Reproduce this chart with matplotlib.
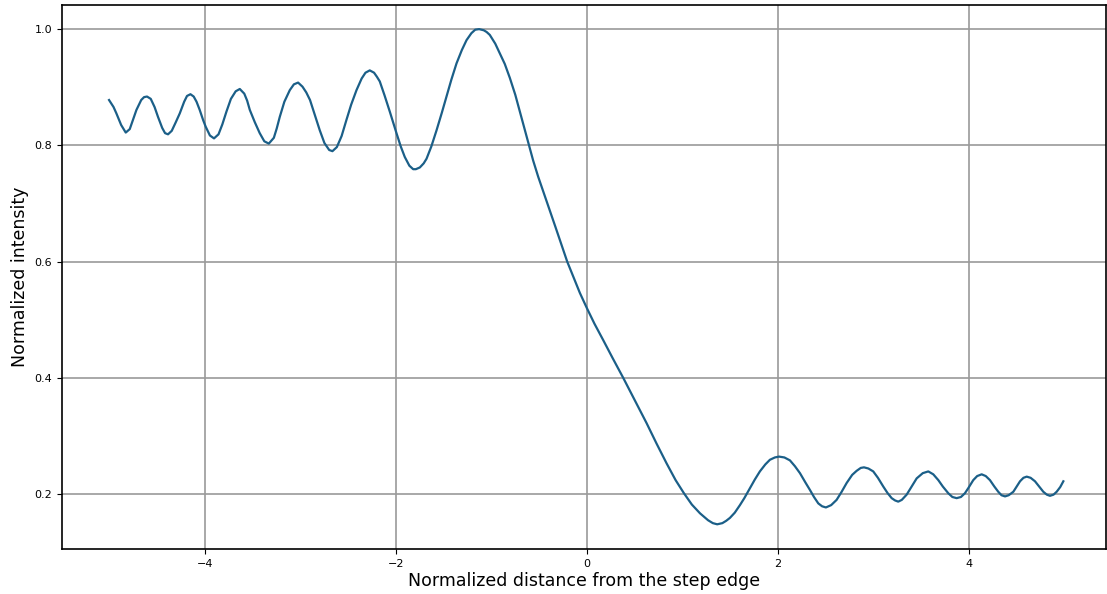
import matplotlib
matplotlib.use("Agg")
import matplotlib.pyplot as plt
import numpy as np

# normalized distance from the step edge
distance = [
    -5.007, -4.96, -4.93, -4.88, -4.832, -4.79, -4.76, -4.72, -4.67, -4.64,
    -4.609, -4.57, -4.53, -4.494, -4.45, -4.42, -4.389, -4.35, -4.31, -4.266,
    -4.22, -4.19, -4.154, -4.12, -4.09, -4.057, -4.02, -3.994, -3.95, -3.907,
    -3.86, -3.82, -3.777, -3.73, -3.68, -3.637, -3.59, -3.56, -3.532, -3.48,
    -3.428, -3.38, -3.333, -3.28, -3.25, -3.218, -3.17, -3.113, -3.07, -3.026,
    -2.98, -2.94, -2.901, -2.85, -2.799, -2.75, -2.70, -2.666, -2.62, -2.57,
    -2.519, -2.47, -2.414, -2.36, -2.32, -2.275, -2.23, -2.20, -2.170, -2.12,
    -2.065, -1.995, -1.95, -1.908, -1.86, -1.82, -1.792, -1.75, -1.71, -1.680,
    -1.63, -1.575, -1.52, -1.471, -1.42, -1.366, -1.31, -1.261, -1.21, -1.17,
    -1.129, -1.08, -1.05, -1.017, -0.96, -0.912, -0.86, -0.807, -0.75, -0.702,
    -0.66, -0.606, -0.563, -0.510, -0.47, -0.423, -0.33, -0.248, -0.206, -0.14,
    -0.073, 0.000, 0.08, 0.171, 0.27, 0.381, 0.50, 0.626, 0.73, 0.835,
    0.93, 1.017, 1.10, 1.185, 1.27, 1.32, 1.366, 1.42, 1.46, 1.499,
    1.55, 1.604, 1.65, 1.709, 1.76, 1.813, 1.87, 1.918, 1.97, 2.013,
    2.07, 2.128, 2.18, 2.233, 2.29, 2.338, 2.38, 2.425, 2.465, 2.505,
    2.56, 2.617, 2.67, 2.722, 2.78, 2.827, 2.87, 2.904, 2.95, 3.001,
    3.05, 3.106, 3.15, 3.194, 3.23, 3.263, 3.30, 3.351, 3.40, 3.456,
    3.52, 3.578, 3.63, 3.683, 3.73, 3.787, 3.83, 3.875, 3.92, 3.962,
    4.00, 4.049, 4.09, 4.137, 4.18, 4.224, 4.27, 4.311, 4.345, 4.382,
    4.42, 4.469, 4.50, 4.539, 4.575, 4.609, 4.65, 4.696, 4.74, 4.783,
    4.82, 4.853, 4.89, 4.923, 4.96, 4.993,
]

# intensity profile across the edge
intensity = [
    0.878, 0.866, 0.855, 0.835, 0.822, 0.828, 0.842, 0.861, 0.878, 0.883,
    0.884, 0.880, 0.866, 0.849, 0.830, 0.821, 0.819, 0.825, 0.839, 0.855,
    0.875, 0.885, 0.888, 0.884, 0.875, 0.861, 0.843, 0.832, 0.817, 0.812,
    0.819, 0.836, 0.858, 0.880, 0.893, 0.897, 0.889, 0.877, 0.861, 0.840,
    0.821, 0.807, 0.803, 0.813, 0.829, 0.849, 0.875, 0.895, 0.905, 0.908,
    0.901, 0.891, 0.878, 0.852, 0.826, 0.804, 0.792, 0.790, 0.797, 0.816,
    0.844, 0.870, 0.895, 0.915, 0.925, 0.929, 0.925, 0.918, 0.910, 0.886,
    0.858, 0.821, 0.798, 0.780, 0.765, 0.759, 0.759, 0.762, 0.769, 0.777,
    0.798, 0.826, 0.856, 0.884, 0.913, 0.941, 0.964, 0.981, 0.993, 0.999,
    1.000, 0.998, 0.995, 0.990, 0.975, 0.958, 0.940, 0.916, 0.887, 0.858,
    0.833, 0.800, 0.774, 0.746, 0.727, 0.705, 0.660, 0.620, 0.600, 0.573,
    0.546, 0.520, 0.493, 0.465, 0.434, 0.400, 0.362, 0.322, 0.287, 0.253,
    0.224, 0.2015, 0.182, 0.167, 0.155, 0.150, 0.148, 0.150, 0.154, 0.159,
    0.168, 0.181, 0.193, 0.210, 0.225, 0.239, 0.251, 0.259, 0.263, 0.2645,
    0.263, 0.258, 0.248, 0.236, 0.220, 0.207, 0.195, 0.184, 0.179, 0.177,
    0.181, 0.190, 0.204, 0.219, 0.233, 0.240, 0.245, 0.246, 0.244, 0.239,
    0.228, 0.213, 0.202, 0.193, 0.189, 0.187, 0.190, 0.199, 0.212, 0.227,
    0.236, 0.239, 0.234, 0.224, 0.213, 0.2015, 0.195, 0.193, 0.195, 0.2015,
    0.211, 0.224, 0.231, 0.234, 0.231, 0.224, 0.213, 0.204, 0.198, 0.196,
    0.198, 0.204, 0.212, 0.222, 0.228, 0.230, 0.228, 0.222, 0.213, 0.204,
    0.199, 0.197, 0.199, 0.204, 0.212, 0.222,
]

fig = plt.figure(figsize=(11.07, 5.94), dpi=100)
ax = fig.add_axes([62 / 1107, 45 / 594, 1044 / 1107, 544 / 594])

ax.plot(np.array(distance), np.array(intensity), color="#1b5f88", linewidth=1.6)

ax.set_xlim(-5.5, 5.44)
ax.set_ylim(0.1055, 1.0415)
ax.set_xticks([-4, -2, 0, 2, 4])
ax.set_yticks([0.2, 0.4, 0.6, 0.8, 1.0])
ax.tick_params(labelsize=8)
ax.grid(True, color="#9a9a9a", linewidth=1.2)
for spine in ax.spines.values():
    spine.set_linewidth(1.2)

ax.set_xlabel("Normalized distance from the step edge", fontsize=12.5, labelpad=2)
ax.set_ylabel("Normalized intensity", fontsize=12.5, labelpad=4)

fig.savefig("out.png", dpi=100)
